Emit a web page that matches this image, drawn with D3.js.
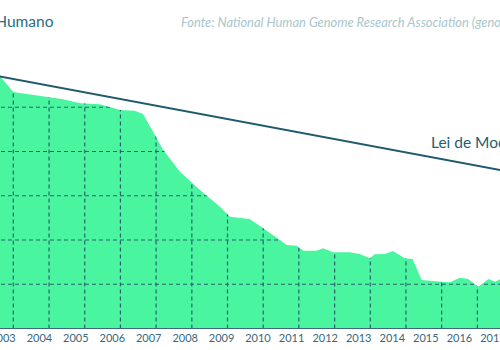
<!DOCTYPE html>
<html><head><meta charset="utf-8">
<script src="https://cdn.jsdelivr.net/npm/d3@7"></script>
<style>body{margin:0;background:#fff} svg{display:block;overflow:hidden}</style>
</head><body>
<svg id="c" width="500" height="350"></svg>
<script>
// ---- data ----
const dates = ["2003-01-01","2003-07-15","2004-01-01","2005-05-25","2005-11-15","2006-06-05","2007-01-01","2007-05-28","2007-08-20","2008-03-15","2008-09-01","2009-03-25","2009-10-15","2010-01-25","2010-08-15","2011-01-01","2011-06-20","2011-08-30","2011-12-10","2012-02-15","2012-07-01","2012-09-05","2012-12-15","2013-06-05","2013-09-15","2013-12-28","2014-02-15","2014-05-30","2014-08-20","2014-12-20","2015-03-10","2015-06-10","2016-01-01","2016-03-25","2016-07-05","2016-09-28","2017-01-10","2017-04-25","2017-07-01","2017-08-20","2017-12-01"];
const costs = [80000000,62000000,22100000,15100000,12300000,11700000,8670000,8360000,7030000,1080000,349000,135000,56600,33700,29900,18400,10000,7710,7430,5730,5730,6490,5270,5270,4830,3850,4750,4830,5640,3850,3720,1250,1140,1110,1410,1320,881,1320,1140,1290,1200];
const mooreDates = ["2003-01-01","2018-01-01"];
const mooreCosts = [61600000,336000];
const yearLabels = ["2003","2004","2005","2006","2007","2008","2009","2010","2011","2012","2013","2014","2015","2016","2017"];
const gridYears = ["2004","2005","2006","2007","2008","2009","2010","2011","2012","2013","2014","2015","2016","2017"];
const gridCosts = [1000,10000,100000,1000000,10000000,100000000];
const titleText = "Humano";
const sourceText = "Fonte: National Human Genome Research Association (genome.gov)";
const mooreText = "Lei de Moore";

// ---- drawing ----
const svg = d3.select("#c");
const parse = d3.utcParse("%Y-%m-%d");
const x = d3.scaleUtc().domain([parse("2004-01-01"), parse("2017-01-01")]).range([13.3, 477.4]);
const y = d3.scaleLog().domain([100, 1e8]).range([328.5, 63]);
const xl = d3.scaleLinear().domain([2003, 2010, 2017]).range([3, 258, 493]);

const data = dates.map((d,i)=>({date: parse(d), cost: costs[i]}));
const area = d3.area().x(d=>x(d.date)).y0(y(100)).y1(d=>y(d.cost));

svg.append("defs").append("clipPath").attr("id","ac")
  .append("path").attr("d", area(data));

svg.append("path").attr("d", area(data)).attr("fill", "#4af59f");

const grid = svg.append("g").attr("clip-path","url(#ac)")
  .attr("stroke","#2b6070").attr("stroke-width",1.2).attr("stroke-dasharray","4,3");
grid.selectAll("line.v").data(gridYears).join("line").attr("class","v")
  .attr("x1", d=>x(parse(d+"-01-01"))).attr("x2", d=>x(parse(d+"-01-01")))
  .attr("y1", y(100)).attr("y2", y(1e8));
grid.selectAll("line.h").data(gridCosts).join("line").attr("class","h")
  .attr("x1", -20).attr("x2", 520).attr("y1", d=>y(d)).attr("y2", d=>y(d));

svg.append("line").attr("x1",0).attr("x2",500).attr("y1",y(100)).attr("y2",y(100))
  .attr("stroke","#3d6a78").attr("stroke-width",1);

const moore = mooreDates.map((d,i)=>({date: parse(d), cost: mooreCosts[i]}));
svg.append("path").attr("d", d3.line().x(d=>x(d.date)).y(d=>y(d.cost))(moore))
  .attr("fill","none").attr("stroke","#1e5b6c").attr("stroke-width",2);

svg.append("text").attr("x",431).attr("y",148.3).text(mooreText)
  .attr("font-family","Lato, sans-serif").attr("font-size",15.5).attr("fill","#245e6f");

svg.selectAll("text.yl").data(yearLabels).join("text").attr("class","yl")
  .attr("x", d=>xl(+d)).attr("y", 342.3).attr("text-anchor","middle")
  .attr("font-family","Lato, sans-serif").attr("font-size",11).attr("fill","#36687a").text(d=>d);

svg.append("text").attr("x",53.5).attr("y",26.5).attr("text-anchor","end").text(titleText)
  .attr("font-family","Lato, sans-serif").attr("font-size",15.5).attr("fill","#2a6e7e");

svg.append("text").attr("x",181).attr("y",26.5).text(sourceText)
  .attr("font-family","Lato, sans-serif").attr("font-style","italic").attr("font-size",12.9).attr("fill","#a9c6cd");
</script>
</body></html>
